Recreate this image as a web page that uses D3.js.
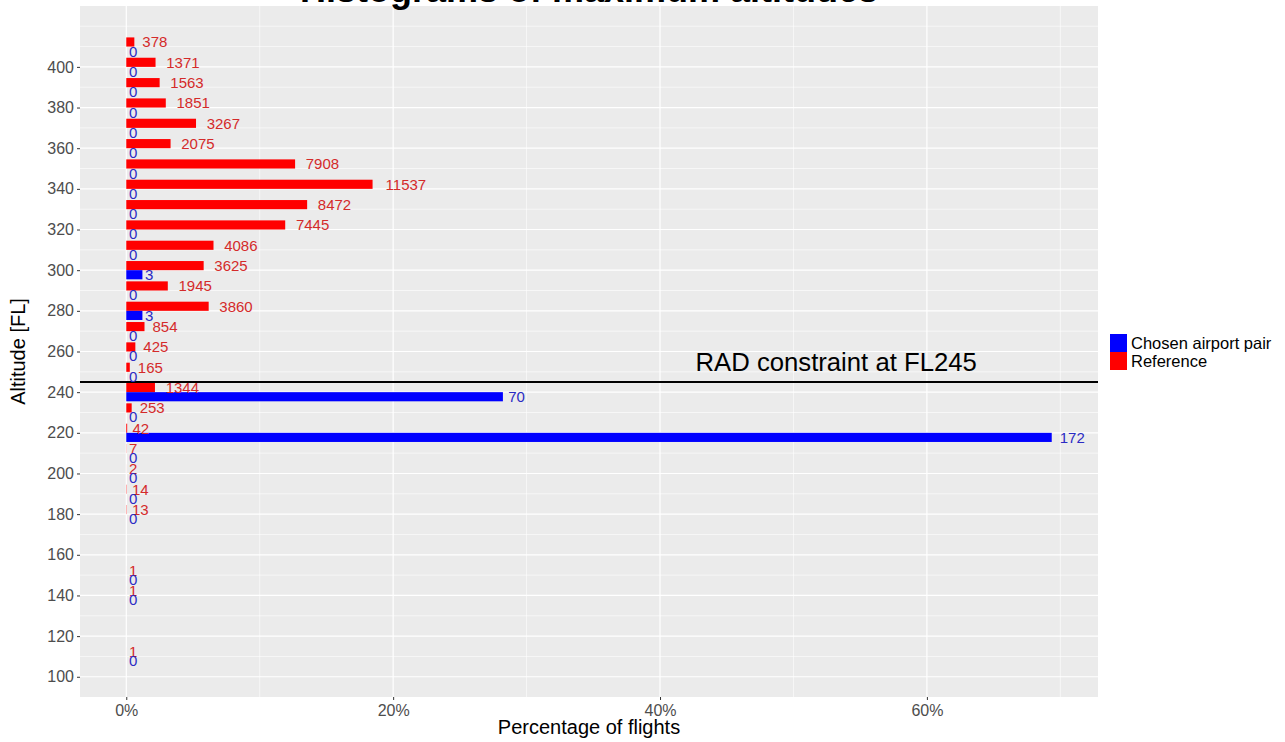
<!DOCTYPE html>
<html>
<head>
<meta charset="utf-8">
<script src="https://cdn.jsdelivr.net/npm/d3@7"></script>
<style>
  html, body { margin: 0; padding: 0; background: #ffffff; }
  svg { display: block; font-family: "Liberation Sans", Arial, sans-serif; }
</style>
</head>
<body>
<svg id="chart" width="1285" height="742"></svg>
<script>
// ---- Data ----
const altitudes = [410, 400, 390, 380, 370, 360, 350, 340, 330, 320, 310, 300, 290, 280, 270, 260, 250, 240, 230, 220, 210, 200, 190, 180, 150, 140, 110];
const referenceCounts = [378, 1371, 1563, 1851, 3267, 2075, 7908, 11537, 8472, 7445, 4086, 3625, 1945, 3860, 854, 425, 165, 1344, 253, 42, 7, 2, 14, 13, 1, 1, 1];
const chosenCounts = [0, 0, 0, 0, 0, 0, 0, 0, 0, 0, 0, 3, 0, 3, 0, 0, 0, 70, 0, 172, 0, 0, 0, 0, 0, 0, 0];
const seriesNames = ["Chosen airport pair", "Reference"];
const seriesColors = ["#0000FF", "#FF0000"];
const labelColors = ["#2B2BC4", "#D42A2A"];
const xTickValues = [0, 20, 40, 60];
const xTickLabels = ["0%", "20%", "40%", "60%"];
const yTickValues = [100, 120, 140, 160, 180, 200, 220, 240, 260, 280, 300, 320, 340, 360, 380, 400];
const radLevel = 245;
const radLabel = "RAD constraint at FL245";
const radLabelPos = [53.2, 255];
const titleText = "Histograms of maximum altitudes";
const xTitle = "Percentage of flights";
const yTitle = "Altitude [FL]";

// ---- Layout ----
const panel = { left: 80, right: 1098, top: 6, bottom: 697 };
const binWidth = 10, dodgeTotal = 9;

const refTotal = d3.sum(referenceCounts);
const chosenTotal = d3.sum(chosenCounts);
const rows = altitudes.map((a, i) => ({
  alt: a,
  ref: referenceCounts[i], refPct: referenceCounts[i] / refTotal * 100,
  cho: chosenCounts[i], choPct: chosenCounts[i] / chosenTotal * 100
}));

const maxPct = d3.max(rows, d => Math.max(d.refPct, d.choPct));
const x = d3.scaleLinear().domain([-0.05 * maxPct, 1.05 * maxPct]).range([panel.left, panel.right]);
const yLo = d3.min(altitudes) - dodgeTotal / 2, yHi = d3.max(altitudes) + dodgeTotal / 2;
const yPad = 0.05 * (yHi - yLo);
const y = d3.scaleLinear().domain([yLo - yPad, yHi + yPad]).range([panel.bottom, panel.top]);

const svg = d3.select("#chart");

// Panel background
svg.append("rect").attr("x", panel.left).attr("y", panel.top)
  .attr("width", panel.right - panel.left).attr("height", panel.bottom - panel.top)
  .attr("fill", "#EBEBEB");

const grid = svg.append("g");
// Minor grid (y every 10, x every 10%)
const yMinor = d3.range(90, 430, 10).filter(v => yTickValues.indexOf(v) < 0 && y(v) >= panel.top && y(v) <= panel.bottom);
grid.selectAll(".ymin").data(yMinor).join("line")
  .attr("x1", panel.left).attr("x2", panel.right)
  .attr("y1", d => y(d)).attr("y2", d => y(d))
  .attr("stroke", "#ffffff").attr("stroke-width", 0.6);
const xMinor = [10, 30, 50, 70].filter(v => x(v) <= panel.right);
grid.selectAll(".xmin").data(xMinor).join("line")
  .attr("y1", panel.top).attr("y2", panel.bottom)
  .attr("x1", d => x(d)).attr("x2", d => x(d))
  .attr("stroke", "#ffffff").attr("stroke-width", 0.6);
// Major grid
grid.selectAll(".ymaj").data(yTickValues).join("line")
  .attr("x1", panel.left).attr("x2", panel.right)
  .attr("y1", d => y(d)).attr("y2", d => y(d))
  .attr("stroke", "#ffffff").attr("stroke-width", 1.2);
grid.selectAll(".xmaj").data(xTickValues).join("line")
  .attr("y1", panel.top).attr("y2", panel.bottom)
  .attr("x1", d => x(d)).attr("x2", d => x(d))
  .attr("stroke", "#ffffff").attr("stroke-width", 1.2);

// Bars
const half = dodgeTotal / 2;
const bars = svg.append("g");
bars.selectAll(".ref").data(rows).join("rect")
  .attr("x", x(0)).attr("y", d => y(d.alt + half))
  .attr("width", d => x(d.refPct) - x(0))
  .attr("height", d => y(d.alt) - y(d.alt + half))
  .attr("fill", seriesColors[1]);
bars.selectAll(".cho").data(rows).join("rect")
  .attr("x", x(0)).attr("y", d => y(d.alt))
  .attr("width", d => x(d.choPct) - x(0))
  .attr("height", d => y(d.alt - half) - y(d.alt))
  .attr("fill", seriesColors[0]);

// RAD constraint line and label
svg.append("line")
  .attr("x1", panel.left).attr("x2", panel.right)
  .attr("y1", y(radLevel)).attr("y2", y(radLevel))
  .attr("stroke", "#000").attr("stroke-width", 2);
svg.append("text").attr("x", x(radLabelPos[0])).attr("y", y(radLabelPos[1]))
  .attr("dy", "0.36em").attr("text-anchor", "middle")
  .attr("font-size", "25.7px").attr("fill", "#000").text(radLabel);

// Value labels
const labels = svg.append("g").attr("font-size", "15px");
function addLabels(key, pctKey, offset, color) {
  labels.selectAll(".l" + key).data(rows).join("text")
    .attr("y", d => y(d.alt + offset))
    .attr("dy", "0.36em")
    .attr("fill", color)
    .text(d => d[key])
    .each(function(d) {
      const w = this.getComputedTextLength();
      d3.select(this).attr("x", x(d[pctKey]) + 0.32 * w);
    });
}
addLabels("ref", "refPct", half / 2, labelColors[1]);
addLabels("cho", "choPct", -half / 2, labelColors[0]);

// Axes
const yAxis = svg.append("g").attr("transform", `translate(${panel.left},0)`)
  .call(d3.axisLeft(y).tickValues(yTickValues).tickSize(3).tickPadding(3));
yAxis.select(".domain").remove();
yAxis.selectAll("line").attr("stroke", "#333333");
yAxis.selectAll("text").attr("font-size", "16px").attr("fill", "#4D4D4D").attr("font-family", null);

const xAxis = svg.append("g").attr("transform", `translate(0,${panel.bottom})`)
  .call(d3.axisBottom(x).tickValues(xTickValues).tickFormat((d, i) => xTickLabels[i]).tickSize(3).tickPadding(5));
xAxis.select(".domain").remove();
xAxis.selectAll("line").attr("stroke", "#333333");
xAxis.selectAll("text").attr("font-size", "16px").attr("fill", "#4D4D4D").attr("font-family", null);

// Titles
svg.append("text").attr("x", (panel.left + panel.right) / 2).attr("y", 2)
  .attr("text-anchor", "middle").attr("font-size", "36px").attr("font-weight", "bold")
  .attr("fill", "#000").text(titleText);
svg.append("text").attr("x", (panel.left + panel.right) / 2).attr("y", 734)
  .attr("text-anchor", "middle").attr("font-size", "20px").attr("fill", "#000").text(xTitle);
svg.append("text").attr("transform", `translate(25,${(panel.top + panel.bottom) / 2}) rotate(-90)`)
  .attr("text-anchor", "middle").attr("font-size", "20px").attr("fill", "#000").text(yTitle);

// Legend
const legend = svg.append("g").attr("transform", "translate(1110,334)");
seriesNames.forEach((name, i) => {
  legend.append("rect").attr("x", 0).attr("y", i * 18).attr("width", 17).attr("height", 18)
    .attr("fill", seriesColors[i]);
  legend.append("text").attr("x", 21).attr("y", i * 18 + 9).attr("dy", "0.36em")
    .attr("font-size", "16.5px").attr("fill", "#000").text(name);
});
</script>
</body>
</html>
